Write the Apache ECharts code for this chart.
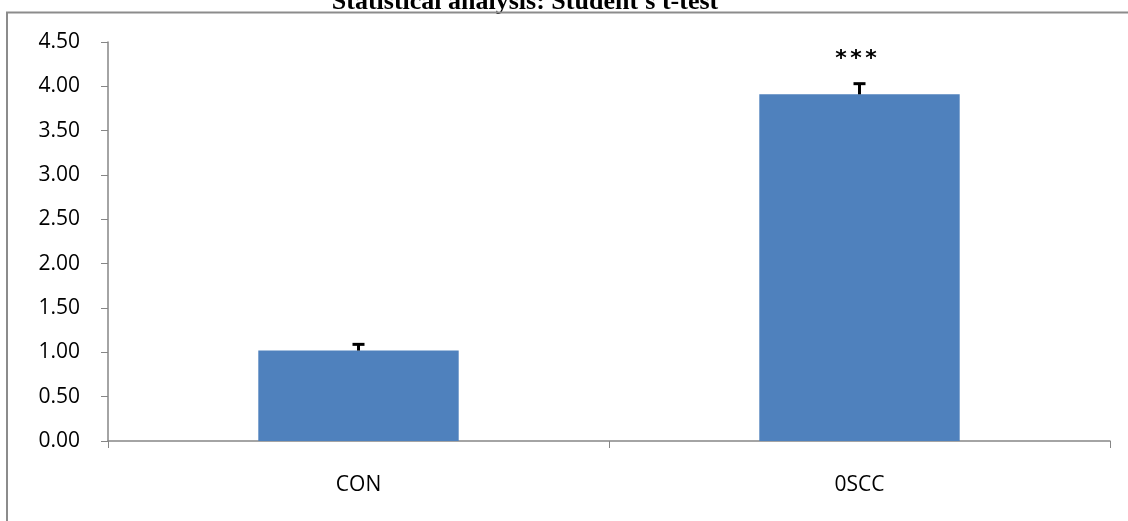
<!DOCTYPE html>
<html>
<head>
<meta charset="utf-8">
<script src="https://cdn.jsdelivr.net/npm/echarts@6/dist/echarts.min.js"></script>
<style>
  html, body { margin: 0; padding: 0; background: #fff; }
  #chart { width: 1128px; height: 521px; }
</style>
</head>
<body>
<div id="chart"></div>
<script>
// Relative expression, mean with upper error
const categories = ['CON', '0SCC'];
const means = [1.02, 3.91];
const errors = [0.07, 0.12];
const marks = ['', '***'];
const yTicks = [0, 0.5, 1, 1.5, 2, 2.5, 3, 3.5, 4, 4.5];

const chart = echarts.init(document.getElementById('chart'));
const axisGray = '#868686';

chart.setOption({
  animation: false,
  title: {
    text: "Statistical analysis: Student's t-test",
    left: 520,
    textAlign: 'center',
    top: -16,
    textStyle: { fontFamily: 'Liberation Serif', fontWeight: 'bold', fontSize: 26, color: '#000' }
  },
  graphic: [{
    type: 'rect',
    shape: { x: 7, y: 12.5, width: 1200, height: 600 },
    style: { fill: 'none', stroke: '#8c8c8c', lineWidth: 2 },
    silent: true,
    z: 100
  }],
  grid: { left: 108, right: 18, top: 42, bottom: 80 },
  xAxis: {
    type: 'category',
    data: categories,
    axisLine: { lineStyle: { color: axisGray, width: 1.5 } },
    axisTick: { show: true, alignWithLabel: false, length: 7, lineStyle: { color: axisGray } },
    axisLabel: { fontFamily: 'Open Sans', fontSize: 21, color: '#000', margin: 34 }
  },
  yAxis: {
    type: 'value',
    min: 0,
    max: 4.5,
    interval: 0.5,
    splitLine: { show: false },
    axisLine: { show: true, lineStyle: { color: axisGray, width: 1.5 } },
    axisTick: { show: true, inside: false, length: 7, lineStyle: { color: axisGray } },
    axisLabel: {
      fontFamily: 'Open Sans', fontSize: 21, color: '#000', margin: 28,
      formatter: v => yTicks.includes(v) ? v.toFixed(2) : ''
    }
  },
  series: [
    {
      type: 'bar',
      data: means,
      barWidth: '40%',
      itemStyle: { color: '#4f81bd' }
    },
    {
      type: 'custom',
      data: means.map((m, i) => [i, m, errors[i]]),
      renderItem: (params, api) => {
        const i = api.value(0);
        const top = api.coord([i, api.value(1) + api.value(2)]);
        const base = api.coord([i, api.value(1)]);
        const half = 6;
        const children = [
          { type: 'line', shape: { x1: top[0], y1: base[1], x2: top[0], y2: top[1] }, style: { stroke: '#000', lineWidth: 3 } },
          { type: 'line', shape: { x1: top[0] - half, y1: top[1], x2: top[0] + half, y2: top[1] }, style: { stroke: '#000', lineWidth: 3 } }
        ];
        // significance stars, spaced apart above the error cap
        const stars = marks[i].split('');
        stars.forEach((s, k) => {
          children.push({
            type: 'text',
            style: {
              text: s,
              x: top[0] - 3.5 + (k - (stars.length - 1) / 2) * 15,
              y: top[1] - 24,
              align: 'center', verticalAlign: 'middle',
              font: 'bold 22px "DejaVu Sans"', fill: '#000'
            }
          });
        });
        return { type: 'group', children };
      },
      z: 5
    }
  ]
});
</script>
</body>
</html>
